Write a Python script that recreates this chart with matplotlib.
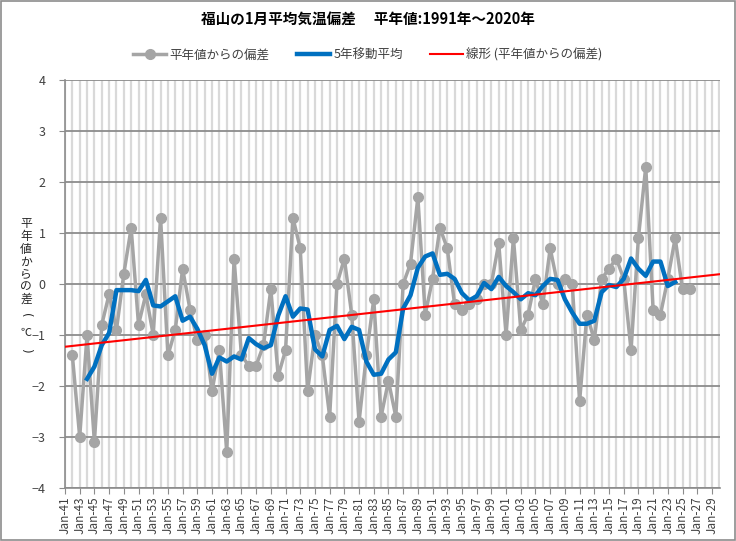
import numpy as np
import pandas as pd
import matplotlib
matplotlib.use('Agg')
import matplotlib.pyplot as plt

plt.rcParams['font.family'] = ['Noto Sans CJK JP', 'DejaVu Sans']

# 福山 1月平均気温 平年値からの偏差 (1942-2026)
start_year = 1942
anomaly = [
	-1.4, -3.0, -1.0, -3.1, -0.8, -0.2, -0.9, 0.2, 1.1, -0.8,   # 1942-1951
	-0.2, -1.0, 1.3, -1.4, -0.9, 0.3, -0.5, -1.1, -1.0, -2.1,   # 1952-1961
	-1.3, -3.3, 0.5, -1.4, -1.6, -1.6, -1.2, -0.1, -1.8, -1.3,  # 1962-1971
	1.3, 0.7, -2.1, -1.0, -1.4, -2.6, 0.0, 0.5, -0.6, -2.7,     # 1972-1981
	-1.4, -0.3, -2.6, -1.9, -2.6, 0.0, 0.4, 1.7, -0.6, 0.1,     # 1982-1991
	1.1, 0.7, -0.4, -0.5, -0.4, -0.3, 0.0, 0.0, 0.8, -1.0,      # 1992-2001
	0.9, -0.9, -0.6, 0.1, -0.4, 0.7, 0.0, 0.1, 0.0, -2.3,       # 2002-2011
	-0.6, -1.1, 0.1, 0.3, 0.5, 0.1, -1.3, 0.9, 2.3, -0.5,       # 2012-2021
	-0.6, 0.1, 0.9, -0.1, -0.1,                                 # 2022-2026
]
years = np.arange(start_year, start_year + len(anomaly))
tick_years = np.arange(1941, 2030, 2)
tick_labels = [f"Jan-{y % 100:02d}" for y in tick_years]

s = pd.Series(anomaly, index=years)
ma5 = s.rolling(5, center=True).mean()
coef = np.polyfit(years, anomaly, 1)

fig = plt.figure(figsize=(7.36, 5.41), dpi=100)
ax = fig.add_axes([65 / 736, 53 / 541, 655 / 736, 408 / 541])

x0, x1 = 1941, 2030.1
ax.set_xlim(x0, x1)
ax.set_ylim(-4, 4)

# gridlines
for y in range(1941, 2031):
	ax.axvline(y, color='#d9d9d9', lw=1.6, zorder=0)
ax.set_yticks(range(-4, 5))
ax.yaxis.grid(True, color='#8c8c8c', lw=1.3, zorder=1)

ax.plot(years, anomaly, color='#a5a5a5', lw=2.5, marker='o', ms=7,
	label='平年値からの偏差', zorder=3)
ax.plot(ma5.index, ma5.values, color='#0070c0', lw=3.2,
	label='5年移動平均', zorder=4)
xt = np.array([x0, x1])
ax.plot(xt, np.polyval(coef, xt), color='#ff0000', lw=1.5,
	label='線形 (平年値からの偏差)', zorder=5)

ax.set_xticks(tick_years)
ax.set_xticklabels(tick_labels, rotation=90, fontsize=8.5, color='#404040')
ax.tick_params(axis='x', length=4, color='#8c8c8c', pad=2)
ax.tick_params(axis='y', length=4, color='#8c8c8c', labelsize=9, labelcolor='#404040', pad=10)

for sp in ['top', 'right']:
	ax.spines[sp].set_visible(False)
for sp in ['left', 'bottom']:
	ax.spines[sp].set_color('#8c8c8c')
	ax.spines[sp].set_linewidth(1.2)

fig.text(0.5, 1 - 19 / 541, '福山の1月平均気温偏差　 平年値:1991年～2020年',
	ha='center', va='center', fontsize=10.5, fontweight='bold')
fig.legend(loc='center', bbox_to_anchor=(0.5, 1 - 55 / 541), ncol=3, frameon=False,
	fontsize=9, handlelength=2.6, columnspacing=2.2, handletextpad=0.3,
	labelcolor='#404040')

# stacked vertical y label, parentheses turned for vertical writing
ylabel_chars = ['平', '年', '値', 'か', 'ら', 'の', '差', '(', '℃', ')']
ylabel_pos = [223, 236.5, 249.5, 262, 274.5, 287, 299.5, 315, 333, 350]
for ch, py in zip(ylabel_chars, ylabel_pos):
	if ch in '()':
		fig.text(26 / 736, 1 - py / 541, ch, ha='center', va='center',
			fontsize=8.5, color='#262626', rotation=-90, family='DejaVu Sans')
	else:
		fs = 8 if ch == '℃' else 8.5
		fig.text(26 / 736, 1 - py / 541, ch, ha='center', va='center',
			fontsize=fs, color='#262626')

fig.patches.append(plt.Rectangle((0.002, 0.002), 0.996, 0.996, transform=fig.transFigure,
	fill=False, edgecolor='#8c8c8c', lw=1.2))

fig.savefig('out.png', dpi=100)
